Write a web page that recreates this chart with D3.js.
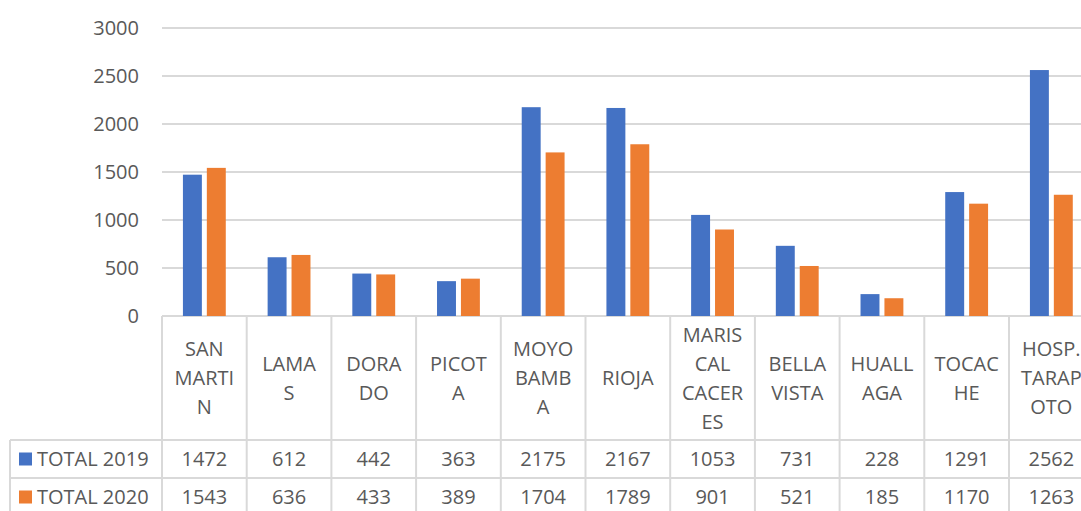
<!DOCTYPE html>
<html>
<head>
<meta charset="utf-8">
<script src="https://cdn.jsdelivr.net/npm/d3@7"></script>
<style>
  body { margin: 0; background: #fff; }
  svg text { font-family: "Open Sans", sans-serif; fill: #595959; }
</style>
</head>
<body>
<script>
// data
var categories = ["SAN MARTIN", "LAMAS", "DORADO", "PICOTA", "MOYOBAMBA", "RIOJA",
    "MARISCAL CACERES", "BELLA VISTA", "HUALLAGA", "TOCACHE", "HOSP. TARAPOTO"];
// the wrapped label lines as they appear in the table header
var categoryLines = [
    ["SAN", "MARTI", "N"], ["LAMA", "S"], ["DORA", "DO"], ["PICOT", "A"],
    ["MOYO", "BAMB", "A"], ["RIOJA"], ["MARIS", "CAL", "CACER", "ES"],
    ["BELLA", "VISTA"], ["HUALL", "AGA"], ["TOCAC", "HE"], ["HOSP.", "TARAP", "OTO"]
];
var seriesNames = ["TOTAL 2019", "TOTAL 2020"];
var total2019 = [1472, 612, 442, 363, 2175, 2167, 1053, 731, 228, 1291, 2562];
var total2020 = [1543, 636, 433, 389, 1704, 1789, 901, 521, 185, 1170, 1263];
var yTicks = [0, 500, 1000, 1500, 2000, 2500, 3000];
var colors = ["#4472C4", "#ED7D31"];

var W = 1081, H = 511;
var plotLeft = 162, plotTop = 28, plotBottom = 316;
var step = 84.7;
var headerBottom = 440, rowH = 38;
var gridColor = "#d9d9d9";
var fontSize = "20px";

var svg = d3.select("body").append("svg")
    .attr("width", W)
    .attr("height", H);

var x0 = d3.scaleBand()
    .domain(d3.range(categories.length))
    .range([plotLeft, plotLeft + step * categories.length])
    .padding(0);

var x1 = d3.scaleBand()
    .domain(d3.range(seriesNames.length))
    .range([0, x0.bandwidth()])
    .paddingInner(0.208)
    .paddingOuter(0.875);

var y = d3.scaleLinear()
    .domain([0, 3000])
    .range([plotBottom, plotTop]);

// gridlines
svg.append("g")
    .selectAll("line")
    .data(yTicks)
    .enter().append("line")
    .attr("x1", plotLeft)
    .attr("x2", W)
    .attr("y1", d => y(d))
    .attr("y2", d => y(d))
    .style("stroke", gridColor)
    .style("stroke-width", 2);

// y labels
svg.append("g")
    .selectAll("text")
    .data(yTicks)
    .enter().append("text")
    .attr("x", 139)
    .attr("y", d => y(d))
    .attr("dy", "0.35em")
    .attr("text-anchor", "end")
    .style("font-size", fontSize)
    .text(d => d);

// bars
var series = [total2019, total2020];
var groups = svg.append("g")
    .selectAll("g")
    .data(categories)
    .enter().append("g")
    .attr("transform", (d, i) => "translate(" + x0(i) + ",0)");

groups.selectAll("rect")
    .data((d, i) => series.map((s, k) => ({ k: k, value: s[i] })))
    .enter().append("rect")
    .attr("x", d => x1(d.k))
    .attr("width", x1.bandwidth())
    .attr("y", d => y(d.value))
    .attr("height", d => y(0) - y(d.value))
    .style("fill", d => colors[d.k]);

// data table
var table = svg.append("g");

// vertical lines of the header/value area
table.selectAll(".vline")
    .data(d3.range(categories.length + 1))
    .enter().append("line")
    .attr("class", "vline")
    .attr("x1", i => plotLeft + step * i)
    .attr("x2", i => plotLeft + step * i)
    .attr("y1", plotBottom)
    .attr("y2", H + 5)
    .style("stroke", gridColor)
    .style("stroke-width", 2);

// legend column left edge
table.append("line")
    .attr("x1", 10).attr("x2", 10)
    .attr("y1", headerBottom).attr("y2", H + 5)
    .style("stroke", gridColor)
    .style("stroke-width", 2);

// horizontal row lines
table.selectAll(".hline")
    .data(d3.range(seriesNames.length + 1))
    .enter().append("line")
    .attr("class", "hline")
    .attr("x1", 10)
    .attr("x2", W)
    .attr("y1", i => headerBottom + rowH * i)
    .attr("y2", i => headerBottom + rowH * i)
    .style("stroke", gridColor)
    .style("stroke-width", 2);

// header labels
var lineH = 29;
var headerMid = (plotBottom + headerBottom) / 2;
table.selectAll(".hdr")
    .data(categoryLines)
    .enter().append("text")
    .attr("class", "hdr")
    .attr("text-anchor", "middle")
    .style("font-size", fontSize)
    .each(function (lines, i) {
        var t = d3.select(this);
        var start = headerMid - (lines.length - 1) * lineH / 2;
        lines.forEach((ln, j) => {
            t.append("tspan")
                .attr("x", x0(i) + step / 2)
                .attr("y", start + j * lineH)
                .attr("dy", "0.35em")
                .text(ln);
        });
    });

// value rows with legend keys
seriesNames.forEach((name, k) => {
    var cy = headerBottom + rowH * k + rowH / 2;
    table.append("rect")
        .attr("x", 19)
        .attr("y", cy - 6.5)
        .attr("width", 13)
        .attr("height", 13)
        .style("fill", colors[k]);
    table.append("text")
        .attr("x", 37)
        .attr("y", cy)
        .attr("dy", "0.35em")
        .style("font-size", fontSize)
        .text(name);
    table.selectAll(".val" + k)
        .data(series[k])
        .enter().append("text")
        .attr("x", (d, i) => x0(i) + step / 2)
        .attr("y", cy)
        .attr("dy", "0.35em")
        .attr("text-anchor", "middle")
        .style("font-size", fontSize)
        .text(d => d);
});
</script>
</body>
</html>
